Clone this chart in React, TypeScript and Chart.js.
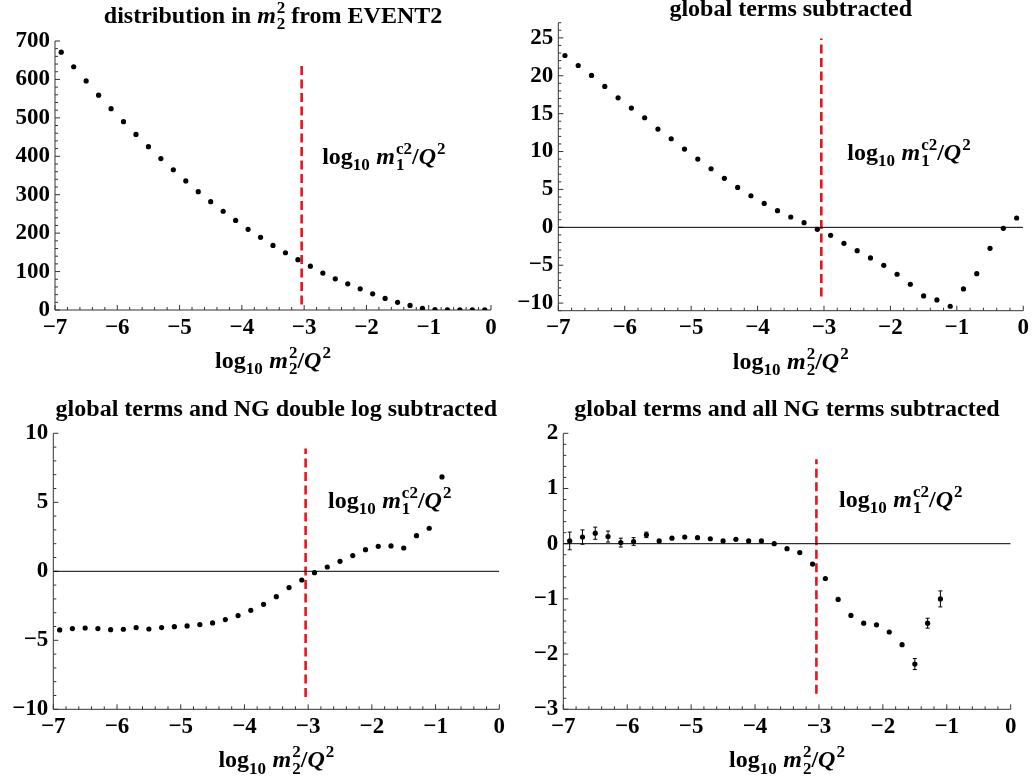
import React, { useEffect, useRef } from "react";
import { Chart, registerables } from "chart.js";

Chart.register(...registerables);

// ---------------- data ----------------
const X_ALL = [-6.9, -6.7, -6.5, -6.3, -6.1, -5.9, -5.7, -5.5, -5.3, -5.1, -4.9, -4.7, -4.5, -4.3, -4.1, -3.9, -3.7, -3.5, -3.3, -3.1, -2.9, -2.7, -2.5, -2.3, -2.1, -1.9, -1.7, -1.5, -1.3, -1.1, -0.9, -0.7, -0.5, -0.3, -0.1];

const Y_EVENT2 = [671, 633, 596, 559, 524, 490, 457, 425, 394, 365, 336, 308, 282, 257, 233, 210, 189, 168, 149, 131, 114, 96, 81, 68, 55, 42, 30, 20, 12, 4, 1.2, 0.4, 0.2, 0.1, 0.1];

const Y_GLOBAL = [22.67, 21.35, 20.04, 18.59, 17.09, 15.73, 14.46, 12.96, 11.69, 10.33, 9.01, 7.73, 6.46, 5.27, 4.17, 3.16, 2.2, 1.36, 0.62, -0.26, -1.05, -2.11, -3.08, -4.04, -5.01, -6.19, -7.51, -9.05, -9.58, -10.41, -8.13, -6.11, -2.77, -0.13, 1.23];

const X_DL = [-6.9, -6.7, -6.5, -6.3, -6.1, -5.9, -5.7, -5.5, -5.3, -5.1, -4.9, -4.7, -4.5, -4.3, -4.1, -3.9, -3.7, -3.5, -3.3, -3.1, -2.9, -2.7, -2.5, -2.3, -2.1, -1.9, -1.7, -1.5, -1.3, -1.1, -0.9];
const Y_DL = [-4.25, -4.15, -4.11, -4.15, -4.23, -4.2, -4.08, -4.18, -4.08, -4.01, -3.96, -3.86, -3.74, -3.5, -3.21, -2.83, -2.39, -1.84, -1.18, -0.63, -0.1, 0.31, 0.72, 1.14, 1.57, 1.81, 1.84, 1.69, 2.58, 3.12, 6.84];

const X_ALLNG = [-6.9, -6.7, -6.5, -6.3, -6.1, -5.9, -5.7, -5.5, -5.3, -5.1, -4.9, -4.7, -4.5, -4.3, -4.1, -3.9, -3.7, -3.5, -3.3, -3.1, -2.9, -2.7, -2.5, -2.3, -2.1, -1.9, -1.7, -1.5, -1.3, -1.1];
const Y_ALLNG = [0.05, 0.12, 0.19, 0.13, 0.02, 0.04, 0.16, 0.05, 0.1, 0.12, 0.11, 0.09, 0.05, 0.08, 0.05, 0.05, 0.0, -0.09, -0.16, -0.37, -0.63, -1.01, -1.3, -1.44, -1.47, -1.6, -1.83, -2.18, -1.44, -1.0];
const E_ALLNG = [0.16, 0.13, 0.11, 0.1, 0.08, 0.07, 0.05, 0.03, 0.02, 0.02, 0.015, 0.015, 0.015, 0.015, 0.015, 0.015, 0.015, 0.015, 0.015, 0.015, 0.02, 0.02, 0.02, 0.02, 0.02, 0.02, 0.03, 0.1, 0.09, 0.145];

const X_TICKS = [-7, -6, -5, -4, -3, -2, -1, 0];
const Y_TICKS_1 = [0, 100, 200, 300, 400, 500, 600, 700];
const Y_TICKS_2 = [-10, -5, 0, 5, 10, 15, 20, 25];
const Y_TICKS_3 = [-10, -5, 0, 5, 10];
const Y_TICKS_4 = [-3, -2, -1, 0, 1, 2];

const CUT_X = -3.04; // log10 m1^c2/Q^2
const CUT_RANGE_1 = [14, 646];
const CUT_RANGE_2 = [-9.14, 24.9];
const CUT_RANGE_3 = [-9.1, 8.9];
const CUT_RANGE_4 = [-2.72, 1.53];

type Seg = { t: string; it?: boolean; sub?: string; sup?: string };

const TITLE_1: Seg[] = [{ t: "distribution in " }, { t: "m", it: true, sub: "2", sup: "2" }, { t: " from EVENT2" }];
const TITLE_2: Seg[] = [{ t: "global terms subtracted" }];
const TITLE_3: Seg[] = [{ t: "global terms and NG double log subtracted" }];
const TITLE_4: Seg[] = [{ t: "global terms and all NG terms subtracted" }];
const X_LABEL: Seg[] = [{ t: "log", sub: "10" }, { t: " " }, { t: "m", it: true, sub: "2", sup: "2" }, { t: "/" }, { t: "Q", it: true, sup: "2" }];
const CUT_LABEL: Seg[] = [{ t: "log", sub: "10" }, { t: " " }, { t: "m", it: true, sub: "1", sup: "c2" }, { t: "/" }, { t: "Q", it: true, sup: "2" }];

// ---------------- drawing helpers ----------------
const FAMILY = '"Liberation Serif", "DejaVu Serif", serif';
const fontStr = (it: boolean, sz: number) => `${it ? "italic " : ""}bold ${sz}px ${FAMILY}`;

function drawRich(ctx: CanvasRenderingContext2D, segs: Seg[], cx: number, baseline: number, size: number) {
  const small = Math.round(size * 0.7);
  const parts = segs.map((s) => {
    ctx.font = fontStr(!!s.it, size);
    const w = ctx.measureText(s.t).width;
    ctx.font = fontStr(false, small);
    const ws = s.sub ? ctx.measureText(s.sub).width : 0;
    const wp = s.sup ? ctx.measureText(s.sup).width : 0;
    const extra = s.sub || s.sup ? Math.max(ws, wp) + (s.it ? 1 : 0.5) : 0;
    return { w, extra };
  });
  const total = parts.reduce((a, p) => a + p.w + p.extra, 0);
  let x = cx - total / 2;
  ctx.save();
  ctx.fillStyle = "#000";
  ctx.textAlign = "left";
  ctx.textBaseline = "alphabetic";
  segs.forEach((s, i) => {
    ctx.font = fontStr(!!s.it, size);
    ctx.fillText(s.t, x, baseline);
    x += parts[i].w;
    const ox = x + (s.it ? 1 : 0);
    ctx.font = fontStr(false, small);
    if (s.sup) ctx.fillText(s.sup, ox, baseline - size * 0.42);
    if (s.sub) ctx.fillText(s.sub, ox, baseline + size * 0.26);
    x += parts[i].extra;
  });
  ctx.restore();
}

const mmaPlugin = {
  id: "mma",
  beforeDatasetsDraw(chart: any, _args: any, opts: any) {
    const { ctx, chartArea: a, scales } = chart;
    const xs = scales.x, ys = scales.y;
    ctx.save();
    ctx.strokeStyle = "#333";
    ctx.lineWidth = 1;
    ctx.beginPath();
    ctx.moveTo(a.left, a.top);
    ctx.lineTo(a.left, a.bottom);
    ctx.lineTo(a.right, a.bottom);
    ctx.stroke();
    ctx.beginPath();
    // x ticks (inward)
    for (let v = xs.min; v <= xs.max + 1e-9; v += opts.xMinor) {
      const major = Math.abs(v - Math.round(v)) < 1e-6;
      const px = xs.getPixelForValue(v);
      ctx.moveTo(px, a.bottom);
      ctx.lineTo(px, a.bottom - (major ? 5 : 3));
    }
    // y ticks (inward)
    const y0 = Math.ceil(ys.min / opts.yMinor - 1e-9) * opts.yMinor;
    for (let v = y0; v <= ys.max + 1e-9; v += opts.yMinor) {
      const r = v / opts.yMajor;
      const major = Math.abs(r - Math.round(r)) < 1e-6;
      const py = ys.getPixelForValue(v);
      ctx.moveTo(a.left, py);
      ctx.lineTo(a.left + (major ? 5 : 3), py);
    }
    ctx.stroke();
    ctx.restore();
  },
  afterDatasetsDraw(chart: any, _args: any, opts: any) {
    const { ctx, chartArea: a, scales } = chart;
    const xs = scales.x, ys = scales.y;
    if (opts.errX) {
      ctx.save();
      ctx.strokeStyle = "#000";
      ctx.lineWidth = 1;
      ctx.beginPath();
      opts.errX.forEach((x: number, i: number) => {
        const e = opts.errE[i];
        const px = xs.getPixelForValue(x);
        const pt = ys.getPixelForValue(opts.errY[i] + e);
        const pb = ys.getPixelForValue(opts.errY[i] - e);
        if (pb - pt < 4) return;
        ctx.moveTo(px, pt);
        ctx.lineTo(px, pb);
        ctx.moveTo(px - 2, pt);
        ctx.lineTo(px + 2, pt);
        ctx.moveTo(px - 2, pb);
        ctx.lineTo(px + 2, pb);
      });
      ctx.stroke();
      ctx.restore();
    }
    const cx = (a.left + a.right) / 2;
    drawRich(ctx, opts.title, cx, opts.titleBaseline, 24);
    drawRich(ctx, X_LABEL, cx, a.bottom + 58, 24);
    drawRich(ctx, CUT_LABEL, xs.getPixelForValue(opts.cutLabel[0]), ys.getPixelForValue(opts.cutLabel[1]), 24);
  },
};

const fmt = (v: number) => (v < 0 ? "\u2212" + Math.abs(v) : String(v));

type Panel = {
  left: number; top: number; w: number; h: number;
  area: { l: number; r: number; t: number; b: number };
  xs: number[]; ys: number[];
  yMin: number; yMax: number; yTicks: number[]; yMajor: number; yMinor: number;
  cut: number[]; zero: boolean; title: Seg[]; titleBaseline: number;
  cutLabel: number[]; err?: number[];
};

const PANELS: Panel[] = [
  { left: 0, top: 0, w: 516, h: 390, area: { l: 55, r: 491, t: 41, b: 310 }, xs: X_ALL, ys: Y_EVENT2, yMin: 0, yMax: 700, yTicks: Y_TICKS_1, yMajor: 100, yMinor: 20, cut: CUT_RANGE_1, zero: false, title: TITLE_1, titleBaseline: 23, cutLabel: [-1.72, 380] },
  { left: 516, top: 0, w: 517, h: 390, area: { l: 42.3, r: 508, t: 22.7, b: 310.7 }, xs: X_ALL, ys: Y_GLOBAL, yMin: -11, yMax: 27, yTicks: Y_TICKS_2, yMajor: 5, yMinor: 1, cut: CUT_RANGE_2, zero: true, title: TITLE_2, titleBaseline: 16, cutLabel: [-1.72, 8.9] },
  { left: 0, top: 390, w: 516, h: 390, area: { l: 53.3, r: 499.3, t: 43.3, b: 319.3 }, xs: X_DL, ys: Y_DL, yMin: -10, yMax: 10, yTicks: Y_TICKS_3, yMajor: 5, yMinor: 1, cut: CUT_RANGE_3, zero: true, title: TITLE_3, titleBaseline: 26, cutLabel: [-1.72, 4.57] },
  { left: 516, top: 390, w: 517, h: 390, area: { l: 47.3, r: 494.7, t: 43.3, b: 319.3 }, xs: X_ALLNG, ys: Y_ALLNG, yMin: -3, yMax: 2, yTicks: Y_TICKS_4, yMajor: 1, yMinor: 0.2, cut: CUT_RANGE_4, zero: true, title: TITLE_4, titleBaseline: 26, cutLabel: [-1.72, 0.67], err: E_ALLNG },
];

function PanelChart({ p }: { p: Panel }) {
  const ref = useRef<HTMLCanvasElement>(null);
  useEffect(() => {
    if (!ref.current) return;
    const tickFont = { family: FAMILY, size: 23, weight: "bold" as const };
    const datasets: any[] = [];
    if (p.zero) {
      datasets.push({ data: [{ x: -7, y: 0 }, { x: 0, y: 0 }], showLine: true, borderColor: "#000", borderWidth: 1, pointRadius: 0 });
    }
    datasets.push({
      data: p.xs.map((x, i) => ({ x, y: p.ys[i] })),
      pointRadius: 2.6, pointBackgroundColor: "#000", pointBorderWidth: 0, showLine: false,
    });
    datasets.push({
      data: [{ x: CUT_X, y: p.cut[0] }, { x: CUT_X, y: p.cut[1] }],
      showLine: true, borderColor: "#e8141c", borderWidth: 2.6, borderDash: [9, 4.5], pointRadius: 0,
    });
    const chart = new Chart(ref.current, {
      type: "scatter",
      data: { datasets },
      plugins: [mmaPlugin],
      options: {
        animation: false,
        responsive: false,
        maintainAspectRatio: false,
        events: [],
        layout: { padding: { left: 0, right: p.w - p.area.r, top: p.area.t, bottom: p.h - p.area.b - 40 } },
        plugins: {
          legend: { display: false },
          tooltip: { enabled: false },
          mma: {
            xMinor: 0.2, yMinor: p.yMinor, yMajor: p.yMajor, title: p.title, titleBaseline: p.titleBaseline,
            cutLabel: p.cutLabel,
            errX: p.err ? p.xs : null, errY: p.ys, errE: p.err,
          },
        } as any,
        scales: {
          x: {
            type: "linear", min: -7, max: 0, position: "bottom",
            afterFit: (s: any) => { s.height = 40; },
            afterBuildTicks: (s: any) => { s.ticks = X_TICKS.map((v) => ({ value: v })); },
            grid: { display: false, drawTicks: false },
            border: { display: false },
            ticks: { font: tickFont, color: "#000", padding: 4, maxRotation: 0, autoSkip: false, callback: (v: any) => fmt(Number(v)) },
          },
          y: {
            type: "linear", min: p.yMin, max: p.yMax, position: "left",
            afterFit: (s: any) => { s.width = p.area.l; },
            afterBuildTicks: (s: any) => { s.ticks = p.yTicks.map((v) => ({ value: v })); },
            grid: { display: false, drawTicks: false },
            border: { display: false },
            ticks: { font: tickFont, color: "#000", padding: 5, autoSkip: false, callback: (v: any) => fmt(Number(v)) },
          },
        },
      },
    });
    return () => chart.destroy();
  }, [p]);
  return (
    <canvas
      ref={ref}
      width={p.w}
      height={p.h}
      style={{ position: "absolute", left: p.left, top: p.top, width: p.w, height: p.h }}
    />
  );
}

export default function App() {
  return (
    <div style={{ position: "absolute", left: 0, top: 0, width: 1033, height: 780, background: "#fff" }}>
      {PANELS.map((p, i) => (
        <PanelChart key={i} p={p} />
      ))}
    </div>
  );
}
